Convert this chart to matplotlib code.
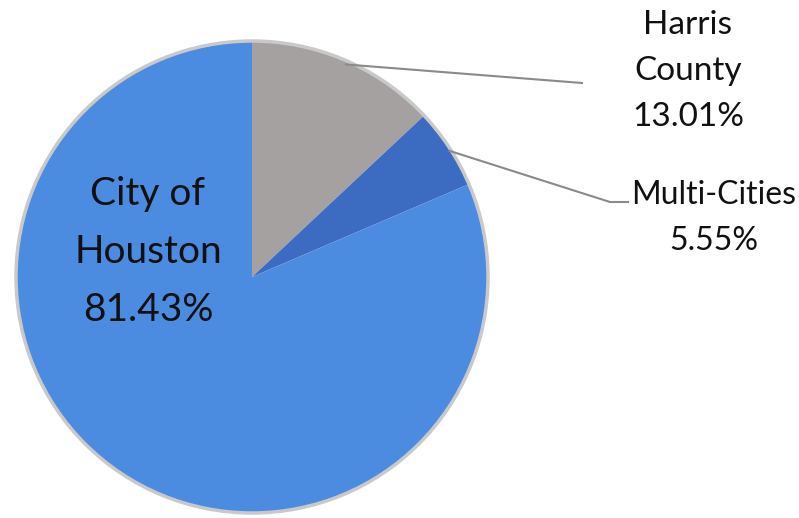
import numpy as np
import matplotlib.pyplot as plt

labels = ['Harris\nCounty', 'Multi-Cities', 'City of\nHouston']
shares = [13.01, 5.55, 81.43]
colors = ['#a6a1a1', '#3c6cc2', '#4b8be0']

plt.rcParams['font.family'] = ['Lato', 'DejaVu Sans']

fig = plt.figure(figsize=(7.99, 5.18), dpi=100)
ax = fig.add_axes([0, 0, 1, 1])

cx, cy, r = 252, 241, 236
wedges, _ = ax.pie(shares, colors=colors, startangle=90, counterclock=False,
                   center=(cx, cy), radius=r,
                   wedgeprops=dict(linewidth=0))
# outline round the whole pie
ax.add_patch(plt.Circle((cx, cy), r, fill=False, edgecolor='#c9c9c9', lw=2.5))

# pie() resets the limits, so set them afterwards
ax.set_xlim(0, 799)
ax.set_ylim(0, 518)
ax.set_aspect('equal')
ax.axis('off')

def edge_point(i):
    w = wedges[i]
    a = np.deg2rad((w.theta1 + w.theta2) / 2)
    return cx + r * np.cos(a), cy + r * np.sin(a)

# leader lines
x0, y0 = edge_point(0)
ax.plot([x0, 582], [y0 - 4, 518 - 83], color='#8a8a8a', lw=1.5)
x1, y1 = edge_point(1)
ax.plot([x1, 610, 628], [y1 - 3, 518 - 202, 518 - 202], color='#8a8a8a', lw=1.5)

txt = dict(ha='center', va='center', color='#111111', fontsize=24,
           linespacing=1.65)
ax.text(688, 518 - 71, f'{labels[0]}\n{shares[0]:.2f}%', **txt)
ax.text(714, 518 - 218, f'{labels[1]}\n{shares[1]:.2f}%',
        **dict(txt, fontsize=23, linespacing=1.7))
ax.text(148, 518 - 252, f'{labels[2]}\n{shares[2]:.2f}%',
        **dict(txt, fontsize=28, linespacing=1.75))

fig.savefig('out.png', dpi=100)
